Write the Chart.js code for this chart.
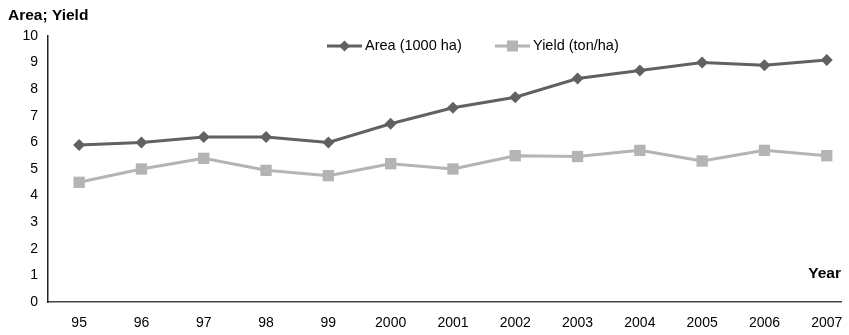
<!DOCTYPE html>
<html lang="en">
<head>
    <meta charset="UTF-8">
    <title>Area; Yield</title>
    <script src="https://cdn.jsdelivr.net/npm/chart.js"></script>
    <style>
        html, body {
            margin: 0;
            padding: 0;
            background: #ffffff;
            overflow: hidden;
        }
        canvas {
            display: block;
        }
    </style>
</head>
<body>
    <canvas id="grafico" width="849" height="335"></canvas>

    <script>
        const years = ['95', '96', '97', '98', '99', '2000', '2001', '2002', '2003', '2004', '2005', '2006', '2007'];
        const area = [5.9, 6.0, 6.2, 6.2, 6.0, 6.7, 7.3, 7.7, 8.4, 8.7, 9.0, 8.9, 9.1];
        const yieldTon = [4.5, 5.0, 5.4, 4.95, 4.75, 5.2, 5.0, 5.5, 5.47, 5.7, 5.3, 5.7, 5.5];
        const yTicks = [0, 1, 2, 3, 4, 5, 6, 7, 8, 9, 10];

        const fuente = 'Arial, "Liberation Sans", sans-serif';
        const pasoX = 62.3; // px entre años, el original corta el área por la derecha

        // eje x lineal por índice
        const puntos = serie => serie.map((v, i) => ({ x: i, y: v }));

        // ajusta el máximo del eje x al ancho real del área, una sola vez
        const ajusteX = {
            id: 'ajusteX',
            afterRender(chart) {
                if (chart.$ajustado) return;
                chart.$ajustado = true;
                const a = chart.chartArea;
                chart.options.scales.x.max = -0.5 + (a.right - a.left) / pasoX;
                chart.update('none');
            }
        };

        // leyenda y títulos dibujados a mano (la leyenda va dentro del área)
        const extras = {
            id: 'extras',
            afterDraw(chart) {
                const ctx = chart.ctx;
                ctx.save();
                ctx.fillStyle = '#000';
                ctx.font = 'bold 15.5px ' + fuente;
                ctx.textBaseline = 'middle';
                ctx.textAlign = 'left';
                ctx.fillText('Area; Yield', 8, 16);
                ctx.textAlign = 'right';
                ctx.fillText('Year', 841, 274);

                const items = [
                    { x: 327, ds: chart.data.datasets[0] },
                    { x: 495, ds: chart.data.datasets[1] }
                ];
                const y = 46;
                items.forEach(it => {
                    ctx.strokeStyle = it.ds.borderColor;
                    ctx.lineWidth = 3;
                    ctx.beginPath();
                    ctx.moveTo(it.x, y);
                    ctx.lineTo(it.x + 35, y);
                    ctx.stroke();
                    ctx.fillStyle = it.ds.pointBackgroundColor;
                    const cx = it.x + 17.5;
                    if (it.ds.pointStyle === 'rectRot') {
                        ctx.beginPath();
                        ctx.moveTo(cx, y - 5.5);
                        ctx.lineTo(cx + 5.5, y);
                        ctx.lineTo(cx, y + 5.5);
                        ctx.lineTo(cx - 5.5, y);
                        ctx.closePath();
                        ctx.fill();
                    } else {
                        ctx.fillRect(cx - 5.5, y - 5.5, 11, 11);
                    }
                    ctx.fillStyle = '#000';
                    ctx.font = '14.5px ' + fuente;
                    ctx.textAlign = 'left';
                    ctx.fillText(it.ds.label, it.x + 38, y);
                });
                ctx.restore();
            }
        };

        new Chart(document.getElementById('grafico'), {
            type: 'line',
            data: {
                datasets: [{
                    label: 'Area (1000 ha)',
                    data: puntos(area),
                    borderColor: '#616161',
                    backgroundColor: '#616161',
                    pointBackgroundColor: '#616161',
                    pointBorderWidth: 0,
                    pointStyle: 'rectRot',
                    pointRadius: 6,
                    borderWidth: 3,
                    tension: 0
                }, {
                    label: 'Yield (ton/ha)',
                    data: puntos(yieldTon),
                    borderColor: '#b4b4b4',
                    backgroundColor: '#b4b4b4',
                    pointBackgroundColor: '#b4b4b4',
                    pointBorderWidth: 0,
                    pointStyle: 'rect',
                    pointRadius: 8,
                    borderWidth: 3,
                    tension: 0
                }]
            },
            options: {
                responsive: false,
                animation: false,
                layout: { padding: { top: 36, left: 0, right: 0, bottom: 0 } },
                plugins: {
                    legend: { display: false },
                    tooltip: { enabled: false }
                },
                scales: {
                    x: {
                        type: 'linear',
                        min: -0.5,
                        max: 12.37,
                        afterBuildTicks(scale) {
                            scale.ticks = years.map((_, i) => ({ value: i }));
                        },
                        grid: { display: false, drawTicks: false },
                        border: { color: '#444', width: 1.5 },
                        ticks: {
                            color: '#000',
                            font: { family: fuente, size: 14 },
                            padding: 13,
                            maxRotation: 0,
                            autoSkip: false,
                            callback: v => years[v]
                        },
                        afterFit(scale) {
                            scale.height = 33;
                            scale.paddingLeft = 0;
                            scale.paddingRight = 0;
                        }
                    },
                    y: {
                        min: 0,
                        max: 10,
                        afterBuildTicks(scale) {
                            scale.ticks = yTicks.map(v => ({ value: v }));
                        },
                        grid: { display: false, drawTicks: false },
                        border: { color: '#222', width: 1.5 },
                        ticks: {
                            color: '#000',
                            font: { family: fuente, size: 14 },
                            padding: 10
                        },
                        afterFit(scale) { scale.width = 48; }
                    }
                }
            },
            plugins: [ajusteX, extras]
        });
    </script>
</body>
</html>
